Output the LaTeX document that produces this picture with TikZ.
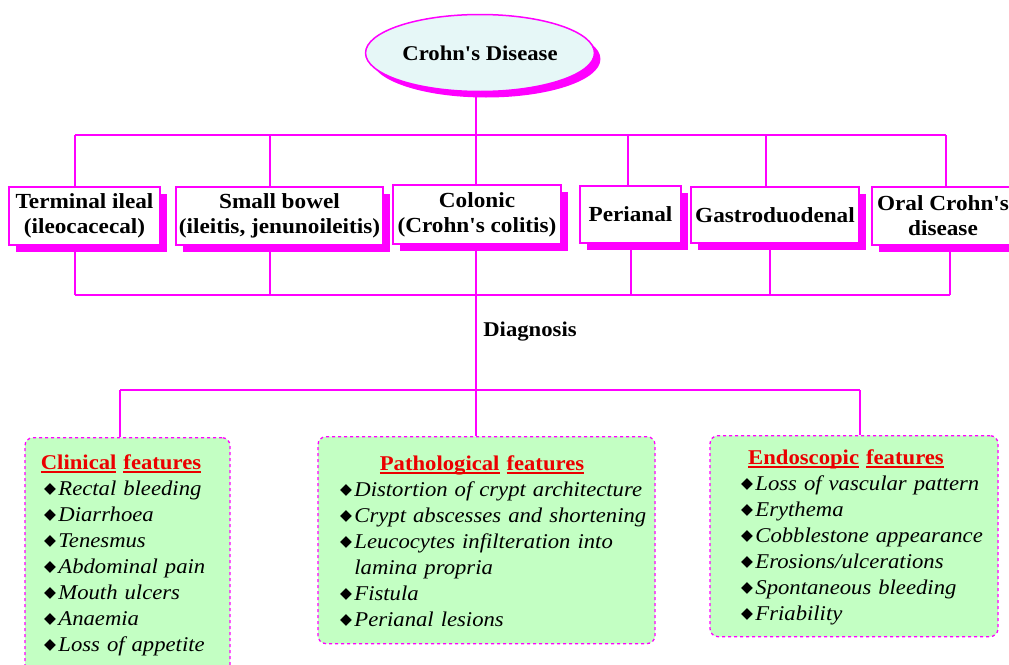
\documentclass[tikz,border=0pt]{standalone}
\usepackage{fontspec}
\setmainfont{Liberation Serif}[FakeStretch=1.08, Ligatures=TeXOff]
\newfontfamily\symfont{DejaVu Sans}
\usetikzlibrary{shapes.geometric,shadows}
\definecolor{crmag}{RGB}{255,0,255}
\definecolor{featgreen}{RGB}{195,255,195}
\definecolor{headred}{RGB}{235,0,0}
\definecolor{titlecyan}{RGB}{230,247,247}
\newcommand{\dia}{\raisebox{2pt}{\upshape\symfont\fontsize{15.5}{15.5}\selectfont ◆}\hspace{2.5pt}}
\newcommand{\itm}[1]{\mbox{\dia #1}}
\newcommand{\uln}[1]{\setbox0\hbox{#1}\rlap{\rule[-3.2pt]{\wd0}{1.6pt}}\box0\relax}
\newcommand{\feathead}[2]{{\upshape\bfseries\color{headred}\uln{#1}\ \uln{#2}}}
\begin{document}
\begin{tikzpicture}[x=1pt,y=-1pt,
  title/.style={draw=crmag, line width=1.5pt, ellipse, fill=titlecyan, minimum width=226pt, minimum height=77pt,
    font=\fontsize{21}{24}\selectfont\bfseries, drop shadow={shadow xshift=6pt,shadow yshift=-6pt,fill=crmag,opacity=1}},
  sitebox/.style={draw=crmag, line width=1.2pt, fill=white, align=center, inner sep=0pt,
    font=\fontsize{21.5}{25}\selectfont\bfseries, drop shadow={shadow xshift=7pt,shadow yshift=-7pt,fill=crmag,opacity=1}},
  featbox/.style={draw=crmag, dashed, line width=1.3pt, rounded corners=8pt, fill=featgreen, anchor=north,
    inner ysep=0pt, font=\fontsize{21}{26}\selectfont\itshape},
  link/.style={draw=crmag, line width=1.6pt}]
\useasboundingbox (0,0) rectangle (1009,664);
\coordinate (bus1) at (0,135);
\coordinate (bus2) at (0,295);
\coordinate (bus3) at (0,390);

\node[title] (title) at (480,53) {Crohn's Disease};

\node[sitebox, minimum width=151pt, minimum height=58pt] (t1) at (84.5,216) {Terminal ileal\\(ileocacecal)};
\node[sitebox, minimum width=207pt, minimum height=58pt] (t2) at (279.5,216) {Small bowel\\(ileitis, jenunoileitis)};
\node[sitebox, minimum width=168pt, minimum height=59pt] (t3) at (477,214.5) {Colonic\\(Crohn's colitis)};
\node[sitebox, minimum width=101pt, minimum height=57pt] (t4) at (630.5,214.5) {Perianal};
\node[sitebox, minimum width=168pt, minimum height=56pt] (t5) at (775,215) {Gastroduodenal};
\node[sitebox, minimum width=142pt, minimum height=58pt] (t6) at (943,216) {Oral Crohn's\\disease};

\node[font=\fontsize{21}{24}\selectfont\bfseries] (diag) at (530,332) {Diagnosis};

\node[featbox, text width=167pt, inner xsep=19pt, minimum height=236pt] (f1) at (127.5,437) {\centering\rule{0pt}{12pt}\hspace*{-13pt}\feathead{Clinical}{features}\par
  \raggedright\itm{Rectal bleeding}\\\itm{Diarrhoea}\\\itm{Tenesmus}\\\itm{Abdominal pain}\\\itm{Mouth ulcers}\\\itm{Anaemia}\\\itm{Loss of appetite}};
\node[featbox, text width=293pt, inner xsep=22pt, minimum height=207pt] (f2) at (486.5,436) {\centering\rule{0pt}{17pt}\hspace*{-9pt}\feathead{Pathological}{features}\par
  \raggedright\itm{Distortion of crypt architecture}\\\itm{Crypt abscesses and shortening}\\\itm{Leucocytes infilteration into}\\\mbox{\phantom{\dia}lamina propria}\\\itm{Fistula}\\\itm{Perianal lesions}};
\node[featbox, text width=226pt, inner xsep=31pt, minimum height=201pt] (f3) at (854,435) {\centering\rule{0pt}{17pt}\hspace*{-16pt}\feathead{Endoscopic}{features}\par
  \raggedright\itm{Loss of vascular pattern}\\\itm{Erythema}\\\itm{Cobblestone appearance}\\\itm{Erosions/ulcerations}\\\itm{Spontaneous bleeding}\\\itm{Friability}};

\path[link] ([xshift=-4pt]title.south) -- ([xshift=-4pt]title.south |- bus1);
\foreach \n/\a in {t1/-9.5pt,t2/-9.5pt,t3/-1pt,t4/-2.5pt,t5/-9pt,t6/3pt} \path[link] ([xshift=\a]\n.north) -- ([xshift=\a]\n.north |- bus1);
\path[link] ([xshift=-9.5pt]t1.north |- bus1) -- ([xshift=3pt]t6.north |- bus1);
\foreach \n/\a in {t1/-9.5pt,t2/-9.5pt,t4/0.5pt,t5/-5pt,t6/7pt} \path[link] ([xshift=\a]\n.south) -- ([xshift=\a]\n.south |- bus2);
\path[link] ([xshift=-9.5pt]t1.south |- bus2) -- ([xshift=7pt]t6.south |- bus2);
\path[link] ([xshift=-1pt]t3.south) -- ([xshift=-1pt]t3.south |- f2.north);
\path[link] ([xshift=-7.5pt]f1.north |- bus3) -- ([xshift=6pt]f3.north |- bus3);
\foreach \n/\a in {f1/-7.5pt,f3/6pt} \path[link] ([xshift=\a]\n.north |- bus3) -- ([xshift=\a]\n.north);
\end{tikzpicture}
\end{document}
